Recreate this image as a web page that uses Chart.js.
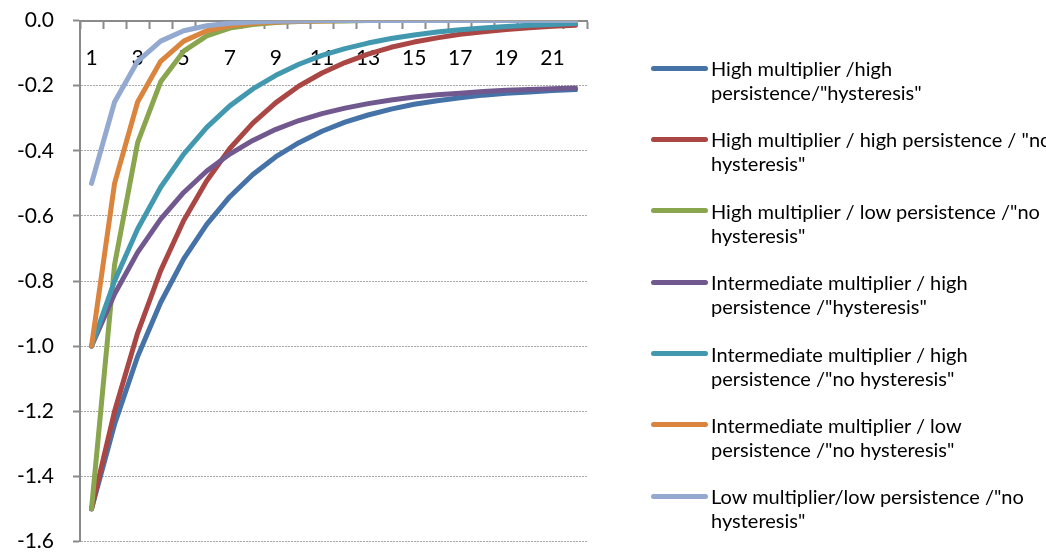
<!DOCTYPE html>
<html>
<head>
<meta charset="utf-8">
<script src="https://cdn.jsdelivr.net/npm/chart.js@4/dist/chart.umd.min.js"></script>
<style>
  body { margin: 0; background: #fff; }
  #wrap { position: relative; width: 1046px; height: 552px; overflow: hidden; }
  #chart { position: absolute; left: 0; top: -11px; }
  #legend { position: absolute; left: 651px; top: 56px; font-family: Lato, sans-serif; font-size: 20px; color: #000; }
  .item { position: relative; height: 71.4px; }
  .swatch { position: absolute; left: 0; top: 9.5px; width: 57px; height: 5px; border-radius: 2.5px; }
  .txt { position: absolute; left: 60px; top: 0; line-height: 24px; white-space: nowrap; }
</style>
</head>
<body>
<div id="wrap">
  <canvas id="chart" width="1046" height="584"></canvas>
  <div id="legend"></div>
</div>
<script>
// periods on the horizontal axis
const periods = ['1','2','3','4','5','6','7','8','9','10','11','12','13','14','15','16','17','18','19','20','21','22'];

// legend names, split the way the original wraps them
const names = [
  ['High multiplier /high', 'persistence/"hysteresis"'],
  ['High multiplier / high persistence / "no', 'hysteresis"'],
  ['High multiplier / low persistence /"no', 'hysteresis"'],
  ['Intermediate multiplier / high', 'persistence /"hysteresis"'],
  ['Intermediate multiplier / high', 'persistence /"no hysteresis"'],
  ['Intermediate multiplier / low', 'persistence /"no hysteresis"'],
  ['Low multiplier/low persistence /"no', 'hysteresis"']
];

const colors = ['#4572A7', '#AA4643', '#89A54E', '#71588F', '#4198AF', '#DB843D', '#93A9CF'];

// series values
const highHighHyst = [-1.5, -1.24, -1.032, -0.866, -0.732, -0.626, -0.541, -0.473, -0.418, -0.375, -0.340, -0.312, -0.290, -0.272, -0.257, -0.246, -0.237, -0.229, -0.223, -0.219, -0.215, -0.212];
const highHighNo = [-1.5, -1.2, -0.96, -0.768, -0.614, -0.492, -0.393, -0.315, -0.252, -0.201, -0.161, -0.129, -0.103, -0.082, -0.066, -0.053, -0.042, -0.034, -0.027, -0.022, -0.017, -0.014];
const highLowNo = [-1.5, -0.75, -0.375, -0.188, -0.094, -0.047, -0.023, -0.012, -0.006, -0.003, -0.001, -0.001, 0, 0, 0, 0, 0, 0, 0, 0, 0, 0];
const midHighHyst = [-1.0, -0.84, -0.712, -0.61, -0.528, -0.462, -0.41, -0.368, -0.334, -0.307, -0.286, -0.269, -0.255, -0.244, -0.235, -0.228, -0.223, -0.218, -0.214, -0.212, -0.209, -0.207];
const midHighNo = [-1.0, -0.8, -0.64, -0.512, -0.41, -0.328, -0.262, -0.21, -0.168, -0.134, -0.107, -0.086, -0.069, -0.055, -0.044, -0.035, -0.028, -0.023, -0.018, -0.014, -0.012, -0.009];
const midLowNo = [-1.0, -0.5, -0.25, -0.125, -0.063, -0.031, -0.016, -0.008, -0.004, -0.002, -0.001, 0, 0, 0, 0, 0, 0, 0, 0, 0, 0, 0];
const lowLowNo = [-0.5, -0.25, -0.125, -0.063, -0.031, -0.016, -0.008, -0.004, -0.002, -0.001, 0, 0, 0, 0, 0, 0, 0, 0, 0, 0, 0, 0];

const series = [highHighHyst, highHighNo, highLowNo, midHighHyst, midHighNo, midLowNo, lowLowNo];

const FONT = { family: 'Lato, sans-serif', size: 21 };
const AXIS_GREY = '#8a8a8a';

const datasets = series.map((vals, i) => ({
  label: names[i].join(' '),
  data: vals,
  borderColor: colors[i],
  backgroundColor: colors[i],
  borderWidth: 5,
  pointRadius: 0,
  tension: 0,
  borderCapStyle: 'round',
  borderJoinStyle: 'round',
  order: series.length - i   // later series on top, like the original
}));

const ctx = document.getElementById('chart').getContext('2d');
const my_chart = new Chart(ctx, {
  type: 'line',
  data: { labels: periods, datasets: datasets },
  options: {
    responsive: false,
    animation: false,
    layout: { padding: { left: 0, top: 8, right: 459, bottom: 0 } },
    plugins: { legend: { display: false }, tooltip: { enabled: false } },
    scales: {
      x: {
        type: 'category',
        position: { y: 0 },
        offset: true,
        grid: { offset: true, drawOnChartArea: false, tickLength: 7, tickColor: AXIS_GREY, tickWidth: 2 },
        border: { color: AXIS_GREY, width: 2 },
        ticks: {
          autoSkip: false, maxRotation: 0, padding: 18, color: '#000', font: FONT,
          callback: function(val, index) { return index % 2 === 0 ? this.getLabelForValue(val) : ''; }
        }
      },
      y: {
        min: -1.6, max: 0,
        afterFit: function(scale) { scale.width = 80; },
        grid: { color: '#a6a6a6', lineWidth: 1, tickLength: 7, tickColor: AXIS_GREY, tickWidth: 2 },
        border: { color: AXIS_GREY, width: 2, dash: [2, 1] },
        ticks: {
          stepSize: 0.2, padding: 19, color: '#000', font: FONT,
          callback: v => v.toFixed(1)
        }
      }
    }
  }
});

// HTML legend built from the datasets
const legend = document.getElementById('legend');
my_chart.data.datasets.forEach((ds, i) => {
  const item = document.createElement('div');
  item.className = 'item';
  item.innerHTML = '<div class="swatch" style="background:' + ds.borderColor + '"></div>' +
    '<div class="txt"></div>';
  item.querySelector('.txt').innerHTML = names[i].map(s => s.replace(/&/g, '&amp;').replace(/</g, '&lt;')).join('<br>');
  legend.appendChild(item);
});
</script>
</body>
</html>
